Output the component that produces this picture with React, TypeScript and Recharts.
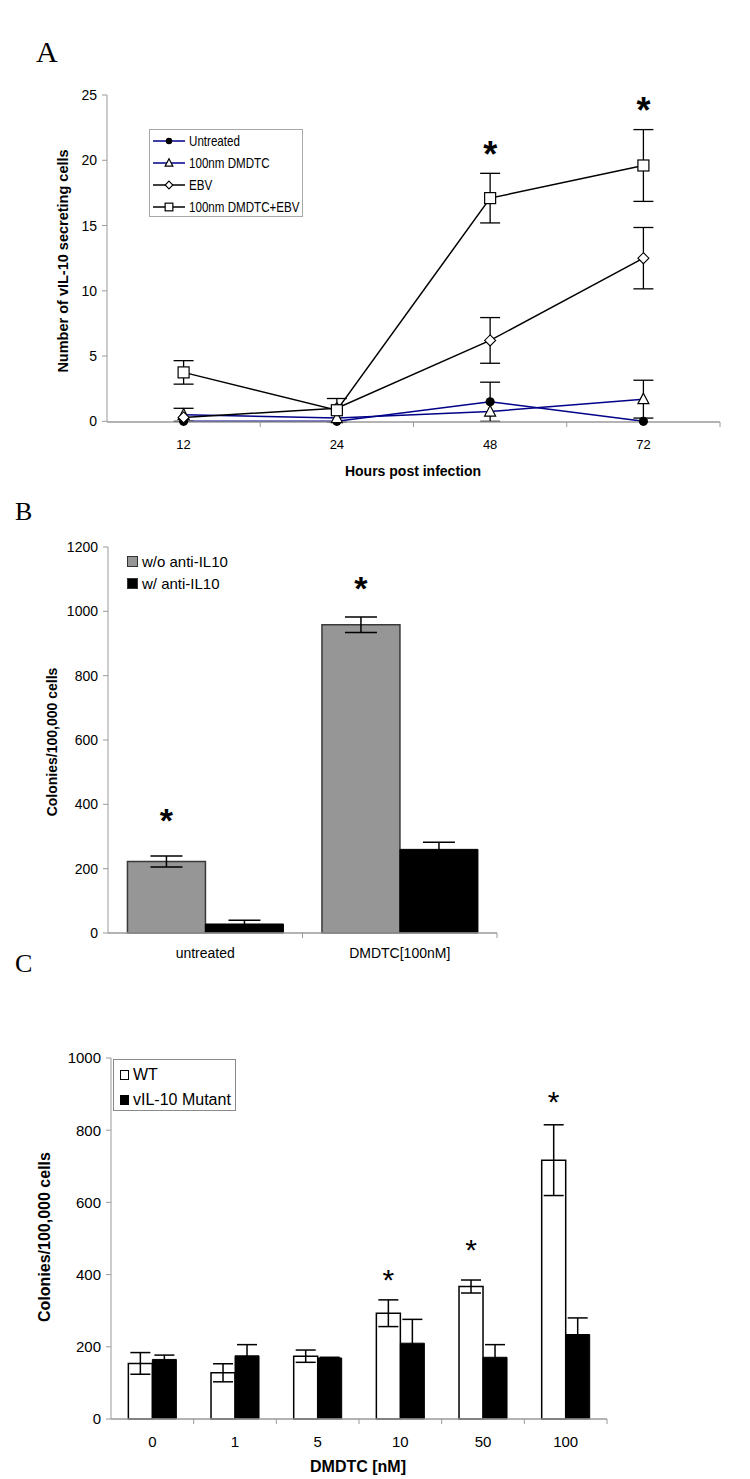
import React from 'react';
import { LineChart, Line, XAxis, YAxis, ErrorBar, BarChart, Bar, LabelList, Legend } from 'recharts';

// ---------- Panel A data ----------
const hourLabels = ['12', '24', '48', '72'];
const untreatedMeans = [0, 0, 1.5, 0];
const untreatedErrs = [null, null, 1.5, null];
const dmdtcMeans = [0.5, 0.25, 0.75, 1.7];
const dmdtcErrs = [0.5, null, null, 1.45];
const ebvMeans = [0.3, 1.0, 6.2, 12.5];
const ebvErrs = [null, null, 1.75, 2.35];
const comboMeans = [3.75, 0.85, 17.1, 19.6];
const comboErrs = [0.9, 0.9, 1.9, 2.75];
const panelAStars = [null, null, 21.1, 24.5];
const panelAYTicks = [0, 5, 10, 15, 20, 25];

// ---------- Panel B data ----------
const treatmentLabels = ['untreated', 'DMDTC[100nM]'];
const withoutAntiMeans = [222, 958];
const withoutAntiErrs = [17, 24];
const withAntiMeans = [28, 260];
const withAntiErrs = [12, 22];
const panelBStars = [375, 1098];
const panelBYTicks = [0, 200, 400, 600, 800, 1000, 1200];

// ---------- Panel C data ----------
const doseLabels = ['0', '1', '5', '10', '50', '100'];
const wtMeans = [154, 128, 174, 293, 367, 717];
const wtErrs = [30, 25, 17, 37, 18, 98];
const mutantMeans = [165, 175, 169, 210, 171, 234];
const mutantErrs = [12, 31, 2, 66, 35, 46];
const panelCStars = [null, null, null, 407, 490, 900];
const panelCYTicks = [0, 200, 400, 600, 800, 1000];

const panelAData = hourLabels.map((hour, i) => ({
  hour,
  untreated: untreatedMeans[i],
  untreatedErr: untreatedErrs[i],
  dmdtc: dmdtcMeans[i],
  dmdtcErr: dmdtcErrs[i],
  ebv: ebvMeans[i],
  ebvErr: ebvErrs[i],
  combo: comboMeans[i],
  comboErr: comboErrs[i],
  star: panelAStars[i],
}));

const panelBData = treatmentLabels.map((treatment, i) => ({
  treatment,
  without: withoutAntiMeans[i],
  withoutErr: withoutAntiErrs[i],
  withAnti: withAntiMeans[i],
  withAntiErr: withAntiErrs[i],
  star: panelBStars[i],
}));

const panelCData = doseLabels.map((dose, i) => ({
  dose,
  wt: wtMeans[i],
  wtErr: wtErrs[i],
  mutant: mutantMeans[i],
  mutantErr: mutantErrs[i],
  star: panelCStars[i],
}));

const FONT = '"Liberation Sans", Arial, sans-serif';
const SERIF = '"Liberation Serif", "Times New Roman", serif';
const AXIS = '#9a9a9a';
const NAVY = '#000088';

type ShapeKind = 'circle' | 'triangle' | 'diamond' | 'square';

function Marker({ cx, cy, shape, scale = 1 }: { cx: number; cy: number; shape: ShapeKind; scale?: number }) {
  if (cx == null || cy == null || isNaN(cx) || isNaN(cy)) return null;
  if (shape === 'circle') return <circle cx={cx} cy={cy} r={4.6 * scale} fill="#000" />;
  if (shape === 'triangle') {
    const h = 6 * scale;
    const w = 5.5 * scale;
    return (
      <path
        d={`M${cx},${cy - h}L${cx + w},${cy + h * 0.75}L${cx - w},${cy + h * 0.75}Z`}
        fill="#fff"
        stroke="#000"
        strokeWidth={1.2}
      />
    );
  }
  if (shape === 'diamond') {
    const r = 5.5 * scale;
    return (
      <path
        d={`M${cx},${cy - r}L${cx + r},${cy}L${cx},${cy + r}L${cx - r},${cy}Z`}
        fill="#fff"
        stroke="#000"
        strokeWidth={1.1}
      />
    );
  }
  const s = 5.5 * scale;
  return <rect x={cx - s} y={cy - s} width={2 * s} height={2 * s} fill="#fff" stroke="#000" strokeWidth={1.2} />;
}

const makeDot = (shape: ShapeKind) => (p: any) => {
  if (p.cy == null || p.cx == null) return <g key={`d-${shape}-${p.index}`} />;
  return (
    <g key={`d-${shape}-${p.index}`}>
      <Marker cx={p.cx} cy={p.cy} shape={shape} />
    </g>
  );
};

const makeLineStar = (fs: number) => (p: any) => {
  if (p.cy == null || p.cx == null || p.value == null) return <g key={`s-${p.index}`} />;
  return (
    <text
      key={`s-${p.index}`}
      x={p.cx}
      y={p.cy + 0.585 * fs}
      textAnchor="middle"
      fontSize={fs}
      fontWeight="bold"
      fontFamily={FONT}
      fill="#000"
    >
      *
    </text>
  );
};

const makeBarStar = (stars: (number | null)[], means: number[], fs: number, weight: string) => (p: any) => {
  const i = p.index;
  const s = stars[i];
  if (s == null) return null;
  const vb = p.viewBox ?? p;
  const { x, y, width, height } = vb;
  const perUnit = height / means[i];
  const cy = y + height - s * perUnit;
  return (
    <text
      key={`bs-${i}`}
      x={x + width / 2}
      y={cy + 0.585 * fs}
      textAnchor="middle"
      fontSize={fs}
      fontWeight={weight}
      fontFamily={FONT}
      fill="#000"
    >
      *
    </text>
  );
};

function BandTick(props: any) {
  const { x, y, payload, band, fontSize, labelOffset } = props;
  return (
    <g>
      <line x1={x + band / 2} x2={x + band / 2} y1={y} y2={y + 5} stroke={AXIS} strokeWidth={1} />
      <text
        x={x}
        y={y + labelOffset + fontSize * 0.35}
        textAnchor="middle"
        fontSize={fontSize}
        fontFamily={FONT}
        fill="#000"
      >
        {payload.value}
      </text>
    </g>
  );
}

function AxisTitle(props: any) {
  const { px, py, text, size, rotate } = props;
  return (
    <text
      x={px}
      y={py}
      transform={rotate ? `rotate(-90 ${px} ${py})` : undefined}
      textAnchor="middle"
      dominantBaseline="central"
      fontSize={size}
      fontWeight="bold"
      fontFamily={FONT}
      fill="#000"
    >
      {text}
    </text>
  );
}

const legendASeries: { name: string; color: string; shape: ShapeKind }[] = [
  { name: 'Untreated', color: NAVY, shape: 'circle' },
  { name: '100nm DMDTC', color: NAVY, shape: 'triangle' },
  { name: 'EBV', color: '#000', shape: 'diamond' },
  { name: '100nm DMDTC+EBV', color: '#000', shape: 'square' },
];

const LegendA = () => (
  <div
    style={{
      width: 152,
      height: 86,
      border: '1px solid #a8a8a8',
      background: '#fff',
      boxSizing: 'content-box',
    }}
  >
    {legendASeries.map((s) => (
      <div key={s.name} style={{ height: 22, display: 'flex', alignItems: 'center' }}>
        <svg width={36} height={14} style={{ marginLeft: 3, flex: 'none' }}>
          <line x1={0} x2={32} y1={7} y2={7} stroke={s.color} strokeWidth={1.5} />
          <Marker cx={16} cy={7} shape={s.shape} scale={0.7} />
        </svg>
        <span
          style={{
            display: 'inline-block',
            fontFamily: FONT,
            fontSize: 14.5,
            whiteSpace: 'nowrap',
            transform: 'scaleX(0.8)',
            transformOrigin: 'left center',
            color: '#000',
          }}
        >
          {s.name}
        </span>
      </div>
    ))}
  </div>
);

const LegendB = () => (
  <div style={{ fontFamily: FONT }}>
    {[
      { name: 'w/o anti-IL10', fill: '#969696' },
      { name: 'w/ anti-IL10', fill: '#000' },
    ].map((s) => (
      <div key={s.name} style={{ height: 22, display: 'flex', alignItems: 'center' }}>
        <span
          style={{
            width: 9,
            height: 9,
            background: s.fill,
            border: '1px solid #333',
            display: 'inline-block',
            marginRight: 4,
          }}
        />
        <span style={{ fontSize: 15, color: '#000', whiteSpace: 'nowrap' }}>{s.name}</span>
      </div>
    ))}
  </div>
);

const LegendC = () => (
  <div
    style={{
      width: 123,
      height: 52,
      border: '1px solid #8a8a8a',
      background: '#fff',
      fontFamily: FONT,
      paddingTop: 2,
      boxSizing: 'border-box',
    }}
  >
    {[
      { name: 'WT', fill: '#fff' },
      { name: 'vIL-10 Mutant', fill: '#000' },
    ].map((s) => (
      <div key={s.name} style={{ height: 25, display: 'flex', alignItems: 'center' }}>
        <span
          style={{
            width: 7,
            height: 8,
            background: s.fill,
            border: '1px solid #000',
            display: 'inline-block',
            marginLeft: 6,
            marginRight: 4,
          }}
        />
        <span style={{ fontSize: 16, color: '#000', whiteSpace: 'nowrap' }}>{s.name}</span>
      </div>
    ))}
  </div>
);

const panelLetter = (letter: string, left: number, top: number, size: number) => (
  <div
    style={{
      position: 'absolute',
      left,
      top,
      fontFamily: SERIF,
      fontSize: size,
      lineHeight: 1,
      color: '#000',
    }}
  >
    {letter}
  </div>
);

export default function App() {
  return (
    <div style={{ position: 'absolute', left: 0, top: 0, width: 750, height: 1479, background: '#fff' }}>
      {panelLetter('A', 36, 37, 30)}
      {panelLetter('B', 15, 499, 26)}
      {panelLetter('C', 15, 951, 26)}

      {/* Panel A */}
      <div style={{ position: 'absolute', left: 0, top: 0 }}>
        <LineChart
          width={750}
          height={500}
          data={panelAData}
          margin={{ top: 95, right: 30, bottom: 77, left: 106 }}
        >
          <XAxis
            dataKey="hour"
            height={1}
            tickSize={0}
            tickMargin={0}
            interval={0}
            padding={{ left: 76.6, right: 76.6 }}
            axisLine={{ stroke: AXIS, strokeWidth: 1.3 }}
            tickLine={false}
            tick={<BandTick band={153.25} fontSize={13} labelOffset={22} />}
            label={<AxisTitle px={413} py={471} text="Hours post infection" size={14} />}
          />
          <YAxis
            type="number"
            domain={[0, 25]}
            ticks={panelAYTicks}
            interval={0}
            width={1}
            tickSize={5}
            tickMargin={5}
            axisLine={{ stroke: AXIS }}
            tickLine={{ stroke: AXIS }}
            tick={{ fontSize: 14, fill: '#000', fontFamily: FONT }}
            label={<AxisTitle px={63} py={261} rotate text="Number of vIL-10 secreting cells" size={14.5} />}
          />
          <Legend
            layout="horizontal"
            verticalAlign="middle"
            align="center"
            wrapperStyle={{ left: 149, top: 129, width: 154, height: 88 }}
            content={() => <LegendA />}
          />
          <Line
            dataKey="untreated"
            stroke={NAVY}
            strokeWidth={1.5}
            dot={makeDot('circle')}
            activeDot={false}
            isAnimationActive={false}
          >
            <ErrorBar dataKey="untreatedErr" width={10} stroke="#000" strokeWidth={1.3} direction="y" />
          </Line>
          <Line
            dataKey="dmdtc"
            stroke={NAVY}
            strokeWidth={1.5}
            dot={makeDot('triangle')}
            activeDot={false}
            isAnimationActive={false}
          >
            <ErrorBar dataKey="dmdtcErr" width={10} stroke="#000" strokeWidth={1.3} direction="y" />
          </Line>
          <Line
            dataKey="ebv"
            stroke="#000"
            strokeWidth={1.5}
            dot={makeDot('diamond')}
            activeDot={false}
            isAnimationActive={false}
          >
            <ErrorBar dataKey="ebvErr" width={10} stroke="#000" strokeWidth={1.3} direction="y" />
          </Line>
          <Line
            dataKey="combo"
            stroke="#000"
            strokeWidth={1.5}
            dot={makeDot('square')}
            activeDot={false}
            isAnimationActive={false}
          >
            <ErrorBar dataKey="comboErr" width={10} stroke="#000" strokeWidth={1.3} direction="y" />
          </Line>
          <Line
            dataKey="star"
            stroke="none"
            dot={makeLineStar(36)}
            activeDot={false}
            legendType="none"
            isAnimationActive={false}
          />
        </LineChart>
      </div>

      {/* Panel B */}
      <div style={{ position: 'absolute', left: 0, top: 500 }}>
        <BarChart
          width={750}
          height={470}
          data={panelBData}
          margin={{ top: 47, right: 253, bottom: 36, left: 107 }}
          barCategoryGap="10%"
          barGap={0}
        >
          <XAxis
            dataKey="treatment"
            height={1}
            tickSize={0}
            tickMargin={0}
            interval={0}
            axisLine={{ stroke: AXIS, strokeWidth: 1.3 }}
            tickLine={false}
            tick={<BandTick band={194.5} fontSize={14} labelOffset={20} />}
          />
          <YAxis
            type="number"
            domain={[0, 1200]}
            ticks={panelBYTicks}
            interval={0}
            width={1}
            tickSize={5}
            tickMargin={5}
            axisLine={{ stroke: AXIS }}
            tickLine={{ stroke: AXIS }}
            tick={{ fontSize: 14, fill: '#000', fontFamily: FONT }}
            label={<AxisTitle px={52} py={242} rotate text="Colonies/100,000 cells" size={14} />}
          />
          <Legend
            layout="horizontal"
            verticalAlign="middle"
            align="center"
            wrapperStyle={{ left: 127, top: 50, width: 140, height: 44 }}
            content={() => <LegendB />}
          />
          <Bar dataKey="without" fill="#969696" stroke="#3a3a3a" strokeWidth={1.5} isAnimationActive={false}>
            <ErrorBar dataKey="withoutErr" width={16} stroke="#000" strokeWidth={1.5} direction="y" />
            <LabelList dataKey="star" content={makeBarStar(panelBStars, withoutAntiMeans, 34, 'bold')} />
          </Bar>
          <Bar dataKey="withAnti" fill="#000" stroke="#000" strokeWidth={1} isAnimationActive={false}>
            <ErrorBar dataKey="withAntiErr" width={16} stroke="#000" strokeWidth={1.5} direction="y" />
          </Bar>
        </BarChart>
      </div>

      {/* Panel C */}
      <div style={{ position: 'absolute', left: 0, top: 960 }}>
        <BarChart
          width={750}
          height={519}
          data={panelCData}
          margin={{ top: 98, right: 143, bottom: 59, left: 110 }}
          barCategoryGap="21%"
          barGap={0}
        >
          <XAxis
            dataKey="dose"
            height={1}
            tickSize={0}
            tickMargin={0}
            interval={0}
            axisLine={{ stroke: AXIS, strokeWidth: 1.3 }}
            tickLine={false}
            tick={<BandTick band={82.67} fontSize={15} labelOffset={23} />}
            label={<AxisTitle px={358} py={506} text="DMDTC [nM]" size={16} />}
          />
          <YAxis
            type="number"
            domain={[0, 1000]}
            ticks={panelCYTicks}
            interval={0}
            width={1}
            tickSize={5}
            tickMargin={5}
            axisLine={{ stroke: AXIS }}
            tickLine={{ stroke: AXIS }}
            tick={{ fontSize: 15, fill: '#000', fontFamily: FONT }}
            label={<AxisTitle px={44} py={277} rotate text="Colonies/100,000 cells" size={16} />}
          />
          <Legend
            layout="horizontal"
            verticalAlign="middle"
            align="center"
            wrapperStyle={{ left: 113, top: 99, width: 125, height: 54 }}
            content={() => <LegendC />}
          />
          <Bar dataKey="wt" fill="#fff" stroke="#000" strokeWidth={1.5} isAnimationActive={false}>
            <ErrorBar dataKey="wtErr" width={10} stroke="#000" strokeWidth={1.5} direction="y" />
            <LabelList dataKey="star" content={makeBarStar(panelCStars, wtMeans, 30, 'normal')} />
          </Bar>
          <Bar dataKey="mutant" fill="#000" stroke="#000" strokeWidth={1} isAnimationActive={false}>
            <ErrorBar dataKey="mutantErr" width={10} stroke="#000" strokeWidth={1.5} direction="y" />
          </Bar>
        </BarChart>
      </div>
    </div>
  );
}
